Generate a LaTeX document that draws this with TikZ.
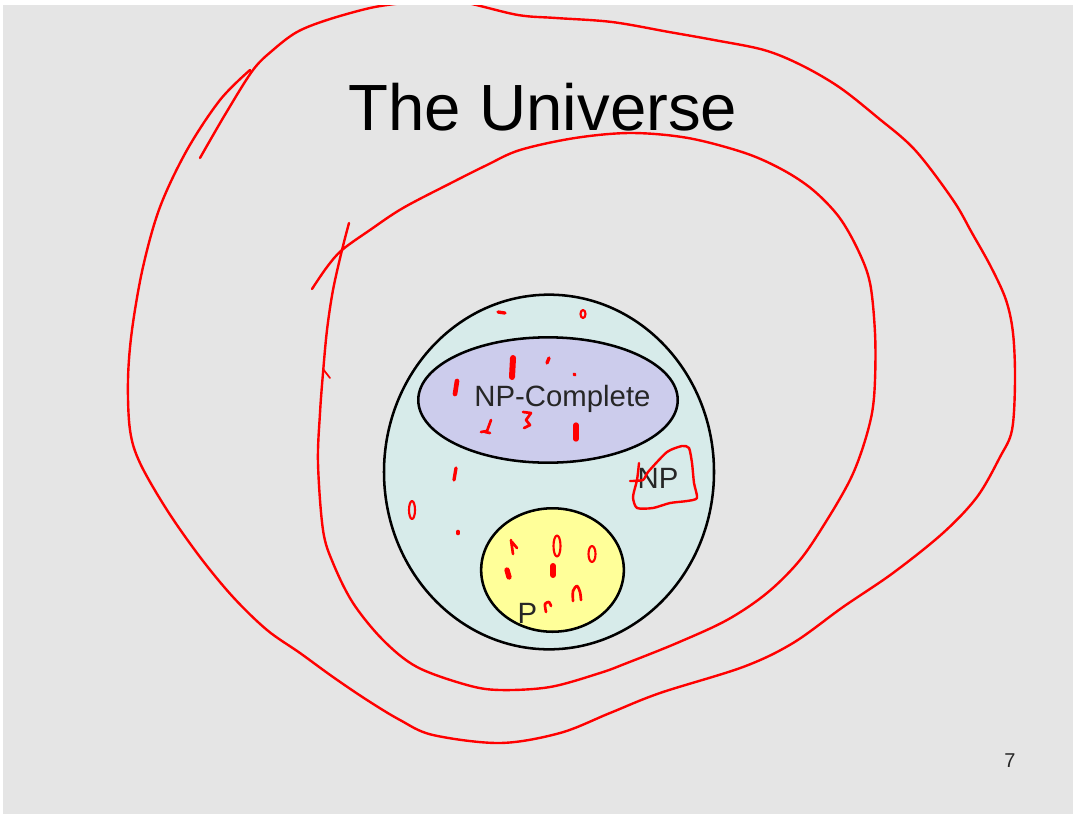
\documentclass[tikz,border=0pt]{standalone}
\usepackage{fontspec}
\setmainfont{Liberation Sans}
\definecolor{slidebg}{RGB}{229, 229, 229}
\definecolor{npfill}{RGB}{215, 235, 234}
\definecolor{npcfill}{RGB}{204, 204, 236}
\definecolor{pfill}{RGB}{255, 255, 153}
\definecolor{inkred}{RGB}{255, 0, 0}
\usepackage{tikz}
\usetikzlibrary{shapes.geometric}

\begin{document}
\begin{tikzpicture}[x=0.75pt, y=-0.75pt,
        setbox/.style={ellipse, draw=black, line width=1.9pt, inner sep=0pt},
        lbl/.style={font=\fontsize{22}{26}\selectfont, text=black!85, anchor=base},
        scribble/.style={draw=inkred, line width=1.8pt, line cap=round, line join=round},
        blob/.style={draw=inkred, line cap=round}]
        % Slide background
        \fill[white] (0,0) rectangle (1073,814);
        \fill[slidebg] (3,5) rectangle (1073,814);

        % Title
        \node[font=\fontsize{49}{58}\selectfont, anchor=base] (title) at (543,130) {The Universe};

        % Nested sets
        \node[setbox, fill=npfill, minimum width=247.5pt, minimum height=266pt] (np) at (549,472) {};
        \node[setbox, fill=npcfill, minimum width=194.6pt, minimum height=94pt] (npc) at (548,400) {};
        \node[setbox, fill=pfill, minimum width=107pt, minimum height=92.6pt] (p) at (552.5,570) {};
        \node[lbl] (npclabel) at (562.5,406) {NP-Complete};
        \node[lbl] (nplabel) at (658,488) {NP};
        \node[lbl] (plabel) at (527.5,623) {P};

        % Page number
        \node[font=\fontsize{15}{18}\selectfont, anchor=base, text=black!85] (pagenum) at (1010,767) {7};

        % Red ink on top
        \begin{scope}
            \clip (3,5) rectangle (1073,814);
            % outer loop
            \draw[scribble] plot[smooth, tension=0.55] coordinates {
                (200,158) (226,113) (253,70) (273,50) (297,32) (327,20) (370,8) (403,3) (435,0)
                (467,3) (518,15) (556,18) (612,22) (669,32) (714,40) (764,50) (801,65) (839,87)
                (877,117) (915,150) (953,200) (972,233) (991,267) (1006,300) (1013,333) (1015,380)
                (1012,430) (1000,457) (977,497) (943,533) (893,573) (843,607) (793,643) (743,667)
                (660,693) (610,713) (560,733) (500,743) (433,735) (400,720) (367,700) (333,677)
                (300,653) (267,630) (233,597) (200,557) (167,510) (140,463) (130,430) (128,380)
                (132,330) (143,267) (160,207) (187,150) (220,100) (250,70)};
            % inner loop
            \draw[scribble] plot[smooth, tension=0.55] coordinates {
                (312,289) (327,267) (342,250) (370,230) (403,208) (453,182) (487,165) (520,150)
                (575,138) (631,133) (688,138) (745,153) (783,170) (813,190) (839,217) (858,250)
                (870,283) (875,333) (875,380) (872,413) (863,447) (850,480) (827,520) (800,560)
                (767,593) (727,620) (677,643) (627,663) (600,673) (550,687) (500,690) (467,685)
                (417,667) (383,640) (353,603) (333,563) (323,530) (318,463) (320,413) (323,373)
                (327,330) (333,290) (342,250) (349,223)};
            \draw[scribble, line width=1.3pt] (323,369) -- (330,378);
        \end{scope}

        % NP mark
        \draw[scribble] plot[smooth, tension=0.4] coordinates {
            (630,481) (643,480) (648,472) (667,452) (682,446) (689,448) (692,463) (694,483)
            (697,498) (687,501) (670,503) (653,508) (637,508) (633,497) (637,480) (639,463)};

        % Dots and dashes
        \foreach \xa/\ya/\xb/\yb/\w in {498/312/505/313/2.5, 513/358/512/377/4.5, 549/358/547/363/2.5,
                574/374/575/375/2.5, 457/381/455/394/3.5, 576/425/576/439/4, 456/468/454/480/2.5,
                458/532/458/533/3.5, 553/566/553/575/4.5, 507/570/509/577/4} {
            \draw[blob, line width=\w pt] (\xa,\ya) -- (\xb,\yb);
        }
        \foreach \cx/\cy/\rx/\ry in {583/314/2.5/4, 412/510/3/9, 557/546/3.5/10.5, 592/554/3.5/8} {
            \draw[scribble, line width=1.6pt] (\cx,\cy) ellipse [x radius=\rx, y radius=\ry];
        }
        \draw[scribble, line width=2pt] (523,412) -- (531,413) -- (526,420) -- (530,425) -- (524,428);
        \draw[scribble, line width=2pt] (491,420) -- (487,431) -- (481,432) (485,432) -- (490,433);
        \draw[scribble, line width=2pt] (511,540) -- (513,554) (512,542) -- (517,548);
        \draw[scribble, line width=2pt] plot[smooth] coordinates {(573,601) (573,591) (577,586) (580,592) (581,600)};
        \draw[scribble, line width=2pt] plot[smooth] coordinates {(546,612) (545,604) (549,602) (551,606)};
\end{tikzpicture}
\end{document}
